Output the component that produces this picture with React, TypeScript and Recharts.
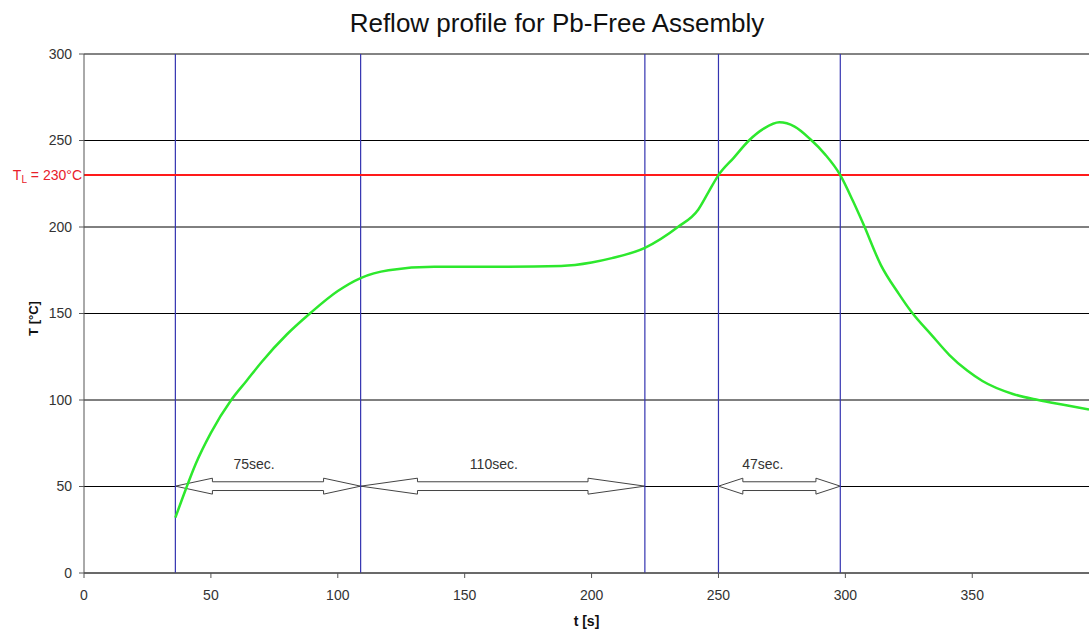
import React from "react";
import {
  LineChart,
  Line,
  XAxis,
  YAxis,
  CartesianGrid,
  ReferenceLine,
  ReferenceArea,
  ReferenceDot,
} from "recharts";

// reflow temperature profile
const times = [36, 40, 44, 50, 58, 64, 70, 80, 89, 100, 109, 120, 138, 165, 188, 200, 208, 221, 234, 242, 246, 250, 256, 262, 268, 274, 280, 286, 292, 298, 303, 307, 314, 321, 326, 334, 341, 348, 354, 366, 376, 387, 396];
const temps = [32, 48, 63, 81, 100, 111, 122, 138, 150, 163, 170.5, 175, 177, 177, 177.5, 179.5, 182, 188, 200, 210, 220, 230, 240, 250, 257, 260.5, 258, 251, 242, 230, 215, 202, 178, 161.5, 151, 137.5, 126, 117, 111, 103.5, 100, 97, 94.5];

const xTicks = [0, 50, 100, 150, 200, 250, 300, 350];
const yTicks = [0, 50, 100, 150, 200, 250, 300];

const phaseLines = [36, 109, 221, 250, 298];
const liquidus = 230;

const spans = [
  { from: 36, to: 109, text: "75sec.", labelAt: 67 },
  { from: 109, to: 221, text: "110sec.", labelAt: 161.5 },
  { from: 250, to: 298, text: "47sec.", labelAt: 267.5 },
];

const data = times.map((t, i) => ({ t, T: temps[i] }));

const font = "'Liberation Sans', Arial, sans-serif";

function DoubleArrow(props: any) {
  const { x, y, width, height } = props;
  const cy = y + height / 2;
  const hh = height / 2;
  const sh = hh * 0.55;
  const hl = width * 0.2;
  const pts = [
    [x, cy],
    [x + hl, cy - hh],
    [x + hl, cy - sh],
    [x + width - hl, cy - sh],
    [x + width - hl, cy - hh],
    [x + width, cy],
    [x + width - hl, cy + hh],
    [x + width - hl, cy + sh],
    [x + hl, cy + sh],
    [x + hl, cy + hh],
  ]
    .map((p) => p.join(","))
    .join(" ");
  return <polygon points={pts} fill="#fff" stroke="#444" strokeWidth={1} />;
}

function LiquidusLabel(props: any) {
  const { viewBox } = props;
  return (
    <text
      x={viewBox.x - 2}
      y={viewBox.y + 5}
      textAnchor="end"
      fill="#e8202a"
      fontFamily={font}
      fontSize={14}
    >
      T<tspan fontSize={10} dy={3}>L</tspan>
      <tspan dy={-3}> = 230°C</tspan>
    </text>
  );
}

function YTitle(props: any) {
  const { viewBox } = props;
  const cx = viewBox.x + 33;
  const cy = viewBox.y + viewBox.height / 2 + 5;
  return (
    <text
      x={cx}
      y={cy}
      transform={`rotate(-90, ${cx}, ${cy})`}
      textAnchor="middle"
      dominantBaseline="central"
      fontFamily={font}
      fontWeight="bold"
      fontSize={13}
      fill="#111"
    >
      T [°C]
    </text>
  );
}

export default function App() {
  return (
    <div
      style={{
        position: "fixed",
        left: 0,
        top: 0,
        width: 1089,
        height: 632,
        overflow: "hidden",
        background: "#fff",
      }}
    >
      <div
        style={{
          position: "absolute",
          top: 10,
          left: 0,
          width: 1089,
          paddingLeft: 25,
          boxSizing: "border-box",
          textAlign: "center",
          fontFamily: font,
          fontSize: 26,
          lineHeight: "26px",
          color: "#111",
        }}
      >
        Reflow profile for Pb-Free Assembly
      </div>
      <LineChart
        width={1089}
        height={632}
        data={data}
        margin={{ top: 54, right: 0, bottom: 0, left: 0 }}
      >
        <CartesianGrid vertical={false} stroke="#000" />
        <XAxis
          type="number"
          dataKey="t"
          domain={[0, 396]}
          ticks={xTicks}
          allowDataOverflow
          height={59}
          tickSize={5}
          tickMargin={12}
          stroke="#555"
          tick={{ fill: "#333", fontSize: 14, fontFamily: font }}
          label={{
            value: "t [s]",
            position: "insideBottom",
            offset: 6,
            fill: "#111",
            fontWeight: "bold",
            fontSize: 14,
            fontFamily: font,
          }}
        />
        <YAxis
          type="number"
          domain={[0, 300]}
          ticks={yTicks}
          width={84}
          tickSize={5}
          tickMargin={7}
          stroke="#555"
          tick={{ fill: "#333", fontSize: 14, fontFamily: font }}
          label={<YTitle />}
        />
        <ReferenceLine y={300} stroke="#888" />
        {phaseLines.map((x) => (
          <ReferenceLine key={x} x={x} stroke="#3434b0" strokeWidth={1.2} />
        ))}
        <ReferenceLine
          y={liquidus}
          stroke="#ff1a1a"
          strokeWidth={2}
          label={<LiquidusLabel />}
        />
        {spans.map((s) => (
          <ReferenceArea
            key={s.text}
            x1={s.from}
            x2={s.to}
            y1={45.6}
            y2={54.8}
            shape={<DoubleArrow />}
          />
        ))}
        {spans.map((s) => (
          <ReferenceDot
            key={"l" + s.text}
            x={s.labelAt}
            y={63}
            r={0}
            fill="none"
            stroke="none"
            label={{
              value: s.text,
              position: "center",
              fill: "#333",
              fontSize: 14,
              fontFamily: font,
            }}
          />
        ))}
        <Line
          type="monotone"
          dataKey="T"
          stroke="#2de82d"
          strokeWidth={2.5}
          dot={false}
          isAnimationActive={false}
        />
      </LineChart>
    </div>
  );
}
